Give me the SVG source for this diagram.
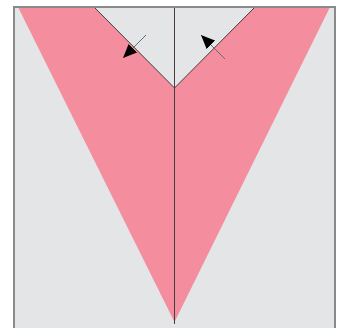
<svg xmlns="http://www.w3.org/2000/svg" width="344" height="328" viewBox="0 0 344 328">
<style>
.bg{fill:#e4e5e6;}
.border{stroke:#8a8a8a;stroke-width:2;fill:none;}
.band{fill:#f48d9d;stroke:none;}
.edge{stroke:#4a3c3e;stroke-width:1;fill:none;}
.arrow{stroke:#6a6a6a;stroke-width:1;fill:none;marker-end:url(#ah);}
</style>
<defs>
<marker id="ah" markerWidth="14" markerHeight="12" refX="14" refY="6" orient="auto" markerUnits="userSpaceOnUse">
<path d="M0,0 L14,6 L0,12 Z" fill="#000"/>
</marker>
</defs>
<rect x="0" y="0" width="344" height="328" fill="#ffffff"/>
<rect class="bg" x="14" y="7" width="321" height="321"/>
<g id="left-band">
<polygon class="band" points="18,7 94,7 174.5,88 174.5,322"/>
</g>
<g id="right-band">
<polygon class="band" points="255,7 330,7 174.5,322 174.5,88"/>
</g>
<g id="connectors">
<line class="edge" x1="94" y1="7" x2="174.5" y2="88"/>
<line class="edge" x1="255" y1="7" x2="174.5" y2="88"/>
<line class="edge" x1="174.5" y1="7" x2="174.5" y2="324"/>
<line class="arrow" x1="146" y1="35" x2="123" y2="58"/>
<line class="arrow" x1="225" y1="59" x2="201" y2="35"/>
</g>
<path class="border" d="M14,328 V7 H335 V328"/>
</svg>
